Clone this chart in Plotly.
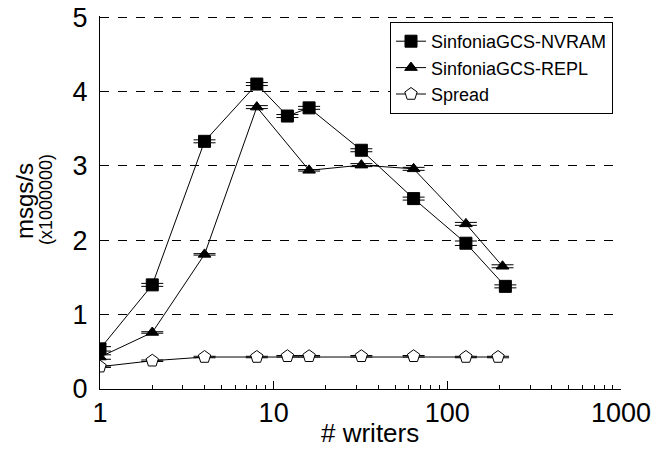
import plotly.graph_objects as go

# Data
nvram_x = [1, 2, 4, 8, 12, 16, 32, 64, 128, 216]
nvram_y = [0.54, 1.40, 3.33, 4.10, 3.67, 3.78, 3.21, 2.56, 1.96, 1.38]
nvram_err = [0.03, 0.02, 0.02, 0.02, 0.02, 0.02, 0.02, 0.02, 0.03, 0.02]

repl_x = [1, 2, 4, 8, 16, 32, 64, 128, 208]
repl_y = [0.43, 0.76, 1.81, 3.79, 2.94, 3.01, 2.96, 2.22, 1.65]
repl_err = [0.03, 0.01, 0.01, 0.02, 0.01, 0.02, 0.02, 0.02, 0.02]

spread_x = [1, 2, 4, 8, 12, 16, 32, 64, 128, 196]
spread_y = [0.30, 0.38, 0.43, 0.43, 0.44, 0.44, 0.44, 0.44, 0.43, 0.43]
spread_err = [0.01, 0.01, 0.01, 0.01, 0.01, 0.01, 0.01, 0.01, 0.01, 0.01]

x_tick_vals = [1, 10, 100, 1000]
x_tick_text = ["1", "10", "100", "1000"]
y_tick_vals = [0, 1, 2, 3, 4, 5]

series = [
    ("SinfoniaGCS-NVRAM", nvram_x, nvram_y, nvram_err, "square", 12, "black"),
    ("SinfoniaGCS-REPL", repl_x, repl_y, repl_err, "triangle-up", 11, "black"),
    ("Spread", spread_x, spread_y, spread_err, "pentagon", 13, "white"),
]

FONT = "Liberation Sans, Arial, sans-serif"
TICKFONT = "Liberation Sans Narrow, Arial Narrow, Liberation Sans, Arial, sans-serif"

fig = go.Figure()
for name, xs, ys, es, sym, sz, fill in series:
    fig.add_trace(go.Scatter(
        x=xs, y=ys, name=name, mode="lines+markers",
        line=dict(color="black", width=1),
        marker=dict(symbol=sym, size=sz, color=fill,
                    line=dict(color="black", width=1)),
        error_y=dict(type="data", array=es, visible=True,
                     color="black", thickness=1, width=11),
    ))

W, H = 652, 462
L, R, T, B = 100, 31, 16, 73
pw = W - L - R
ph = H - T - B

def px(xp):
    return (xp - L) / pw

def py(yp):
    return (H - B - yp) / ph

minor_vals = [m * d for d in (1, 10, 100) for m in range(2, 10)]

fig.update_layout(
    width=W, height=H,
    margin=dict(l=L, r=R, t=T, b=B, pad=0, autoexpand=False),
    paper_bgcolor="white", plot_bgcolor="white",
    font=dict(family=FONT, color="black"),
    showlegend=True,
    legend=dict(
        x=px(613), y=py(22), xanchor="right", yanchor="top",
        bgcolor="white", bordercolor="black", borderwidth=1,
        font=dict(family=FONT, size=18, color="black"),
        tracegroupgap=0, itemwidth=30,
    ),
    xaxis=dict(
        type="log", range=[0, 3.0004], automargin=False,
        showline=True, linecolor="black", linewidth=1,
        showgrid=False, zeroline=False,
        ticks="inside", ticklen=8, tickcolor="black",
        tickvals=x_tick_vals, ticktext=x_tick_text,
        tickfont=dict(family=TICKFONT, size=27, color="black"),
        minor=dict(ticks="inside", ticklen=4, tickcolor="black",
                   tickvals=minor_vals, showgrid=False),
    ),
    yaxis=dict(
        range=[0, 5.015], automargin=False,
        showline=True, linecolor="black", linewidth=1,
        showgrid=True, gridcolor="black", gridwidth=1, griddash="dash",
        zeroline=False,
        ticks="", tickvals=y_tick_vals,
        tickfont=dict(family=TICKFONT, size=27, color="black"),
        ticklabelstandoff=6,
    ),
    annotations=[
        dict(text="msgs/s", x=px(24), y=py(201), xref="paper", yref="paper",
             textangle=-90, showarrow=False, xanchor="center", yanchor="middle",
             font=dict(family=FONT, size=24, color="black")),
        dict(text="(x1000000)", x=px(46), y=py(200), xref="paper", yref="paper",
             textangle=-90, showarrow=False, xanchor="center", yanchor="middle",
             font=dict(family=FONT, size=18, color="black")),
        dict(text="# writers", x=px(370), y=py(433), xref="paper", yref="paper",
             showarrow=False, xanchor="center", yanchor="middle",
             font=dict(family=FONT, size=26, color="black")),
    ],
)

fig.write_html("out.html")
